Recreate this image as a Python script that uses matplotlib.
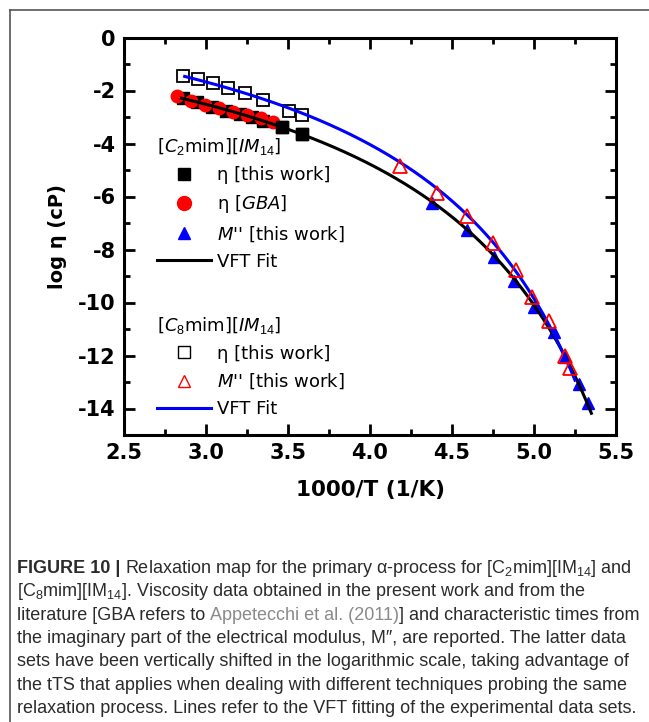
"""
Relaxation map, [C2mim][IM14] and [C8mim][IM14] (figure 10 redraw)
"""

import numpy as np
import matplotlib.pyplot as plt
from matplotlib.lines import Line2D

plt.rcParams['axes.unicode_minus'] = False
plt.rcParams['mathtext.fontset'] = 'custom'
plt.rcParams['mathtext.rm'] = 'Liberation Sans'
plt.rcParams['mathtext.it'] = 'DejaVu Sans:italic'

# [C2mim][IM14] viscosity, this work
c2_eta_x = [2.862, 2.943, 3.035, 3.122, 3.207, 3.279, 3.349, 3.466, 3.587]
c2_eta_y = [-2.30, -2.45, -2.61, -2.76, -2.90, -3.01, -3.14, -3.39, -3.65]
# [C2mim][IM14] viscosity, GBA
gba_x = [2.825, 2.907, 2.994, 3.081, 3.167, 3.252, 3.334, 3.410]
gba_y = [-2.22, -2.38, -2.53, -2.67, -2.80, -2.93, -3.05, -3.17]
# [C2mim][IM14] M'' this work
c2_m_x = [4.38, 4.59, 4.755, 4.875, 5.00, 5.12, 5.19, 5.275, 5.33]
c2_m_y = [-6.25, -7.28, -8.27, -9.17, -10.16, -11.13, -12.05, -13.08, -13.81]
# [C8mim][IM14] viscosity, this work
c8_eta_x = [2.858, 2.953, 3.045, 3.136, 3.238, 3.346, 3.508, 3.583]
c8_eta_y = [-1.45, -1.58, -1.73, -1.89, -2.11, -2.36, -2.76, -2.92]
# [C8mim][IM14] M'' this work
c8_m_x = [4.18, 4.41, 4.59, 4.75, 4.89, 4.99, 5.089, 5.19, 5.217]
c8_m_y = [-4.85, -5.88, -6.73, -7.76, -8.77, -9.81, -10.68, -12.00, -12.46]

# VFT fits: log eta = A - D/(T - T0), T = 1000/x
vft_c2 = dict(A=0.076, D=465.0, T0=154.3, xmin=2.85, xmax=5.35)
vft_c8 = dict(A=0.96, D=465.0, T0=157.0, xmin=2.87, xmax=5.25)

xticks = [2.5, 3.0, 3.5, 4.0, 4.5, 5.0, 5.5]
yticks = [0, -2, -4, -6, -8, -10, -12, -14]

caption = [
    [("FIGURE 10 | ", dict(weight='bold')),
     (r"Relaxation map for the primary α-process for [C$_2$mim][IM$_{14}$] and", {})],
    [(r"[C$_8$mim][IM$_{14}$]. Viscosity data obtained in the present work and from the", {})],
    [("literature [GBA refers to ", {}),
     ("Appetecchi et al. (2011)", dict(color='#8a8a8a')),
     ("] and characteristic times from", {})],
    [("the imaginary part of the electrical modulus, M\u2033, are reported. The latter data", {})],
    [("sets have been vertically shifted in the logarithmic scale, taking advantage of", {})],
    [("the tTS that applies when dealing with different techniques probing the same", {})],
    [("relaxation process. Lines refer to the VFT fitting of the experimental data sets.", {})],
]


def vft(p):
    x = np.linspace(p['xmin'], p['xmax'], 300)
    return x, p['A'] - p['D'] / (1000.0 / x - p['T0'])


W, H = 649, 722
fig = plt.figure(figsize=(W / 100, H / 100), dpi=100)
ax = fig.add_axes([124 / W, 1 - 435 / H, (616 - 124) / W, (435 - 37.5) / H])

ax.plot(c2_eta_x, c2_eta_y, 's', color='black', ms=8, zorder=2)
ax.plot(gba_x, gba_y, 'o', color='red', ms=9, zorder=3)
ax.plot(c2_eta_x[-2:], c2_eta_y[-2:], 's', color='black', ms=8, zorder=4)
ax.plot(c8_eta_x, c8_eta_y, 's', mfc='none', mec='black', mew=1.3, ms=8, zorder=4)
ax.plot(c2_m_x, c2_m_y, '^', color='blue', ms=9, zorder=2)
x, y = vft(vft_c2)
ax.plot(x, y, color='black', lw=2.2, zorder=5)
x, y = vft(vft_c8)
ax.plot(x, y, color='blue', lw=2.2, zorder=5)
ax.plot(c8_m_x, c8_m_y, '^', mfc='none', mec='red', mew=1.3, ms=9.5, zorder=6)

ax.set_xlim(2.5, 5.5)
ax.set_ylim(-15, 0)
ax.set_xticks(xticks)
ax.set_xticks(np.arange(2.75, 5.5, 0.5), minor=True)
ax.set_yticks(yticks)
ax.set_yticks(np.arange(-15, 0, 2), minor=True)
ax.set_xticklabels(['%.1f' % v for v in xticks])
ax.tick_params(which='both', direction='in', top=True, right=True, width=2)
ax.tick_params(which='major', length=8, labelsize=15, pad=6)
ax.tick_params(which='minor', length=4)
for lab in ax.get_xticklabels() + ax.get_yticklabels():
    lab.set_fontweight('bold')
for s in ax.spines.values():
    s.set_linewidth(2.2)
ax.set_xlabel("1000/T (1/K)", fontsize=15.5, fontweight='bold', labelpad=12)
ax.set_ylabel("log \u03b7 (cP)", fontsize=14, fontweight='bold', labelpad=8)

leg_kw = dict(loc='upper left', frameon=False, fontsize=13, handlelength=3.0,
              handletextpad=0.3, labelspacing=0.5, borderaxespad=0,
              alignment='left', title_fontsize=13, borderpad=0)
h1 = [Line2D([], [], ls='none', marker='s', color='black', ms=8),
      Line2D([], [], ls='none', marker='o', color='red', ms=10),
      Line2D([], [], ls='none', marker='^', color='blue', ms=9),
      Line2D([], [], color='black', lw=2.2)]
l1 = ["\u03b7 [this work]", "\u03b7 [$\\mathit{GBA}$]",
      "$\\mathit{M}$'' [this work]", "VFT Fit"]
leg1 = ax.legend(h1, l1, title=r"[$\mathit{C}_2$mim][$\mathit{IM}_{14}$]",
                 bbox_to_anchor=(0.067, 0.752), **leg_kw)
ax.add_artist(leg1)
h2 = [Line2D([], [], ls='none', marker='s', mfc='none', mec='black', ms=8),
      Line2D([], [], ls='none', marker='^', mfc='none', mec='red', ms=9),
      Line2D([], [], color='blue', lw=2.2)]
l2 = ["\u03b7 [this work]", "$\\mathit{M}$'' [this work]", "VFT Fit"]
ax.legend(h2, l2, title=r"[$\mathit{C}_8$mim][$\mathit{IM}_{14}$]",
          bbox_to_anchor=(0.067, 0.303), **leg_kw)

# frame line on left and top
fig.add_artist(Line2D([10 / W, 10 / W], [0, 1 - 10 / H], color='#555555', lw=1.2))
fig.add_artist(Line2D([10 / W, 1], [1 - 10 / H, 1 - 10 / H], color='#555555', lw=1.2))

# caption, drawn piece by piece
r = fig.canvas.get_renderer()
y0 = 573
for i, line in enumerate(caption):
    xp = 17
    for s, kw in line:
        t = fig.text(xp / W, 1 - (y0 + i * 23.3) / H, s, fontsize=13,
                     family=['Liberation Sans', 'DejaVu Sans'],
                     color=kw.get('color', '#2b2b2b'),
                     weight=kw.get('weight', 'normal'), va='baseline')
        xp += t.get_window_extent(r).width

fig.savefig("out.png", dpi=100)
